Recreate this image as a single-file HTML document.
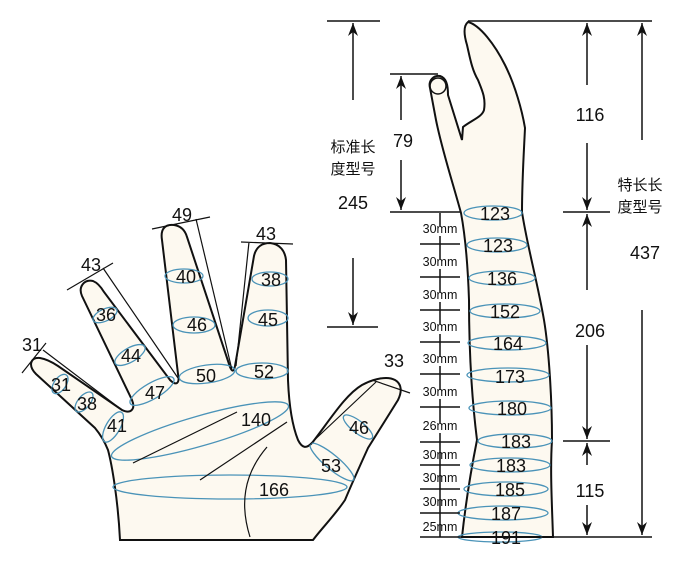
<!DOCTYPE html>
<html><head><meta charset="utf-8"><style>
html,body{margin:0;padding:0;background:#fff}
svg{display:block}
text{font-family:"Liberation Sans","Noto Sans CJK SC",sans-serif;fill:#111}
</style></head><body>
<svg width="700" height="562" viewBox="0 0 700 562" xmlns="http://www.w3.org/2000/svg">
<defs><marker id="ah" markerWidth="14" markerHeight="12" refX="13" refY="5" orient="auto" markerUnits="userSpaceOnUse"><path d="M0,0 L13,5 L0,10 L4,5 Z" fill="#111"/></marker></defs>
<!-- HAND -->
<path d="M120,540 C118,500 112,465 108,450 C104,440 100,434 95,428 L36,374 C28,366 30,357 40,358 C46,359 52,362 58,366 L122,410 C130,414 136,410 132,400 L82,296 C78,287 84,279 93,281 C98,283 101,287 104,292 L170,380 C176,386 180,384 178,374 L162,240 C160,228 166,224 174,225 C181,226 185,230 187,237 L230,367 C232,372 234,372 235,366 L254,256 C256,247 262,243 270,243 C280,244 285,251 286,260 L288,380 C289,405 292,425 298,440 C302,448 306,449 312,443 C330,420 345,395 362,385 C375,378 388,376 395,380 C402,384 402,392 398,400 L368,448 C358,470 350,488 345,500 C335,515 322,528 313,540 Z" fill="#fdf9f0" stroke="#111" stroke-width="2"/>
<g fill="none" stroke="#4a93b8" stroke-width="1.3">
<ellipse cx="60" cy="384" rx="11" ry="6" transform="rotate(-55 60 384)"/>
<ellipse cx="84" cy="402" rx="12" ry="6" transform="rotate(-50 84 402)"/>
<ellipse cx="113" cy="427" rx="17" ry="7" transform="rotate(-60 113 427)"/>
<ellipse cx="105" cy="315" rx="13" ry="6" transform="rotate(-25 105 315)"/>
<ellipse cx="130" cy="355" rx="17" ry="7" transform="rotate(-30 130 355)"/>
<ellipse cx="152" cy="391" rx="25" ry="8" transform="rotate(-30 152 391)"/>
<ellipse cx="184" cy="276" rx="19" ry="7"/>
<ellipse cx="194" cy="325" rx="21" ry="8"/>
<ellipse cx="207" cy="374" rx="28" ry="9" transform="rotate(-8 207 374)"/>
<ellipse cx="270" cy="279" rx="18" ry="7"/>
<ellipse cx="268" cy="318" rx="20" ry="8"/>
<ellipse cx="262" cy="371" rx="26" ry="8"/>
<ellipse cx="200" cy="431" rx="92" ry="15" transform="rotate(-16 200 431)"/>
<ellipse cx="230" cy="487" rx="117" ry="12"/>
<ellipse cx="332" cy="462" rx="28" ry="7" transform="rotate(40 332 462)"/>
<ellipse cx="358" cy="427" rx="18" ry="6" transform="rotate(38 358 427)"/>
</g>
<g stroke="#111" stroke-width="1.2" fill="none">
<path d="M133,463 L237,412 M200,480 L287,422 M250,537 C240,505 243,475 267,447"/>
<path d="M22,373 L46,343 M43,350 L122,410"/>
<path d="M67,290 L113,263 M103,268 L178,378"/>
<path d="M152,229 L210,217 M196,219 L232,370"/>
<path d="M241,242 L293,244 M249,242 L236,366"/>
<path d="M307,447 L376,382 M372,380 L410,393"/>
</g>
<g font-size="18" text-anchor="middle">
<text x="32" y="351">31</text><text x="61" y="391">31</text><text x="87" y="410">38</text><text x="117" y="432">41</text>
<text x="91" y="271">43</text><text x="106" y="321">36</text><text x="131" y="362">44</text><text x="155" y="399">47</text>
<text x="182" y="221">49</text><text x="186" y="283">40</text><text x="197" y="331">46</text><text x="206" y="382">50</text>
<text x="266" y="240">43</text><text x="271" y="286">38</text><text x="268" y="326">45</text><text x="264" y="378">52</text>
<text x="256" y="426">140</text><text x="274" y="496">166</text><text x="331" y="472">53</text><text x="359" y="434">46</text><text x="394" y="367">33</text>
</g>
<!-- GLOVE -->
<path d="M468,22 C480,25 495,45 505,65 C515,85 522,110 525,128 C524,150 522,180 522,212 C527,245 537,280 544,320 C549,350 552,400 552,440 C550,470 552,505 553,537 L462,537 C466,500 472,465 477,440 C472,400 469,350 469,300 C468,270 466,240 461,213 C452,180 442,150 436,120 L430,88 C428,80 434,75 440,76 C446,78 448,84 448,95 L462,140 L463,127 C472,120 482,117 484,110 C486,98 482,90 478,80 C472,70 470,58 467,45 C464,35 463,26 468,22 Z" fill="#fdf9f0" stroke="#111" stroke-width="2"/>
<circle cx="438" cy="86" r="8" fill="none" stroke="#111" stroke-width="1.5"/>
<g fill="none" stroke="#4a93b8" stroke-width="1.3">
<ellipse cx="493" cy="213" rx="29" ry="7"/><ellipse cx="497" cy="245" rx="30" ry="7"/><ellipse cx="502" cy="278" rx="33" ry="7"/><ellipse cx="505" cy="311" rx="35" ry="7"/><ellipse cx="507" cy="343" rx="39" ry="7"/><ellipse cx="508" cy="375" rx="41" ry="7"/><ellipse cx="510" cy="408" rx="41" ry="7"/><ellipse cx="515" cy="441" rx="37" ry="7"/><ellipse cx="510" cy="465" rx="40" ry="7"/><ellipse cx="506" cy="489" rx="42" ry="7"/><ellipse cx="503" cy="513" rx="45" ry="7"/><ellipse cx="500" cy="537" rx="42" ry="5"/>
</g>
<g font-size="18" text-anchor="middle">
<text x="495" y="220">123</text><text x="498" y="252">123</text><text x="502" y="285">136</text><text x="505" y="318">152</text><text x="508" y="350">164</text><text x="510" y="383">173</text><text x="512" y="415">180</text><text x="516" y="448">183</text><text x="511" y="472">183</text><text x="510" y="496">185</text><text x="506" y="520">187</text><text x="506" y="544">191</text>
</g>
<!-- scale -->
<g stroke="#111" stroke-width="1.5">
<path d="M420,244 H460 M420,277 H460 M420,310 H460 M420,342 H460 M420,374 H460 M420,407 H460 M420,442 H460 M420,465 H460 M420,489 H460 M420,513 H460"/>
<path d="M440,213 V226 M440,236 V259 M440,269 V292 M440,302 V324 M440,334 V357 M440,366 V390 M440,399 V423 M440,433 V537"/>
</g>
<g font-size="12.5" text-anchor="middle">
<text x="440" y="233">30mm</text><text x="440" y="266">30mm</text><text x="440" y="299">30mm</text><text x="440" y="331">30mm</text><text x="440" y="363">30mm</text><text x="440" y="396">30mm</text><text x="440" y="430">26mm</text><text x="440" y="459">30mm</text><text x="440" y="482">30mm</text><text x="440" y="506">30mm</text><text x="440" y="531">25mm</text>
</g>
<!-- dimension lines -->
<g stroke="#111" stroke-width="1.5" fill="none">
<path d="M327,21 H380 M468,21 H652 M390,74 H438 M390,212 H460 M327,327 H378 M563,212 H610 M563,441 H610 M420,537 H652"/>
<path d="M353,100 V23" marker-end="url(#ah)"/>
<path d="M353,258 V325" marker-end="url(#ah)"/>
<path d="M401,120 V76" marker-end="url(#ah)"/>
<path d="M401,160 V210" marker-end="url(#ah)"/>
<path d="M587,85 V23" marker-end="url(#ah)"/>
<path d="M587,143 V210" marker-end="url(#ah)"/>
<path d="M642,140 V23" marker-end="url(#ah)"/>
<path d="M642,310 V535" marker-end="url(#ah)"/>
<path d="M587,290 V214" marker-end="url(#ah)"/>
<path d="M587,345 V439" marker-end="url(#ah)"/>
<path d="M587,465 V443" marker-end="url(#ah)"/>
<path d="M587,505 V535" marker-end="url(#ah)"/>
</g>
<g font-size="18" text-anchor="middle">
<text x="353" y="209">245</text><text x="403" y="147">79</text><text x="590" y="121">116</text><text x="645" y="259">437</text><text x="590" y="337">206</text><text x="590" y="497">115</text>
</g>
<g font-size="15" text-anchor="middle">
<text x="353" y="152">标准长</text><text x="353" y="174">度型号</text>
<text x="640" y="190">特长长</text><text x="640" y="212">度型号</text>
</g>
</svg>
</body></html>
